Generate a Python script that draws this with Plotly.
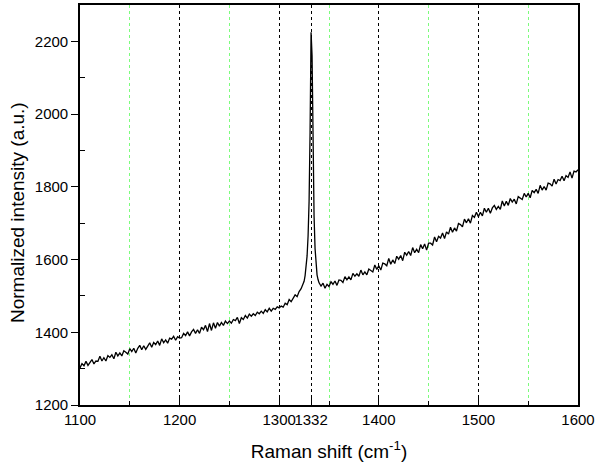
import plotly.graph_objects as go

# Raman shift (cm^-1)
shift = (list(range(1100, 1325, 2)) + list(range(1325, 1341, 1)) + list(range(1342, 1601, 2)))

intensity = [
    # 1100-1200
    1302, 1314, 1308, 1320, 1309, 1318, 1325, 1313, 1321, 1320,
    1334, 1321, 1330, 1321, 1336, 1331, 1338, 1327, 1345, 1335,
    1343, 1335, 1349, 1345, 1340, 1355, 1347, 1356, 1343, 1356,
    1364, 1352, 1363, 1353, 1363, 1371, 1359, 1372, 1366, 1376,
    1364, 1382, 1371, 1379, 1370, 1384, 1381, 1389, 1378, 1388,
    1384,
    # 1202-1300
    1385, 1397, 1391, 1401, 1390, 1401, 1408, 1397, 1407, 1397,
    1414, 1407, 1419, 1402, 1424, 1405, 1426, 1411, 1427, 1417,
    1427, 1419, 1431, 1424, 1431, 1425, 1435, 1432, 1441, 1424,
    1440, 1435, 1446, 1439, 1450, 1444, 1451, 1446, 1455, 1451,
    1458, 1452, 1462, 1456, 1466, 1458, 1466, 1463, 1470, 1467,
    # 1302-1324
    1472, 1469, 1480, 1476, 1490, 1484, 1495, 1503, 1498, 1512,
    1520, 1531,
    # 1325-1340
    1540, 1556, 1578, 1610, 1665, 1760, 1950, 2225, 2160, 1900,
    1720, 1630, 1585, 1558, 1545, 1536,
    # 1342-1600
    1527, 1535, 1521, 1532, 1526, 1539, 1532, 1541, 1529, 1544,
    1543, 1537, 1553, 1544, 1552, 1544, 1562, 1554, 1561, 1554,
    1571, 1558, 1566, 1558, 1574, 1571, 1566, 1585, 1573, 1583,
    1571, 1590, 1588, 1583, 1603, 1587, 1599, 1589, 1609, 1601,
    1611, 1597, 1620, 1612, 1622, 1611, 1633, 1619, 1628, 1619,
    1641, 1630, 1643, 1626, 1645, 1645, 1640, 1662, 1649, 1664,
    1659, 1673, 1658, 1676, 1670, 1689, 1675, 1687, 1678, 1699,
    1696, 1690, 1711, 1701, 1712, 1700, 1721, 1716, 1730, 1718,
    1730, 1720, 1741, 1730, 1741, 1727, 1742, 1749, 1738, 1746,
    1738, 1761, 1747, 1760, 1749, 1768, 1758, 1766, 1753, 1773,
    1769, 1765, 1782, 1772, 1782, 1770, 1790, 1784, 1793, 1782,
    1804, 1791, 1801, 1791, 1810, 1808, 1802, 1821, 1808, 1820,
    1817, 1829, 1817, 1831, 1826, 1841, 1824, 1843, 1841, 1847,
]

x_ticks = [1100, 1200, 1300, 1332, 1400, 1500, 1600]
x_minor = [1150, 1250, 1350, 1450, 1550]
x_top_ticks = [1100, 1150, 1200, 1250, 1300, 1350, 1400, 1450, 1500, 1550, 1600]
y_ticks = [1200, 1400, 1600, 1800, 2000, 2200]
y_minor = [1300, 1500, 1700, 1900, 2100]
y_right_ticks = [1200, 1300, 1400, 1500, 1600, 1700, 1800, 1900, 2000, 2100, 2200]

x_range = [1100, 1600]
y_range = [1200, 2300]

FONT = "Liberation Sans, Arial, sans-serif"

fig = go.Figure()
fig.add_trace(go.Scatter(x=shift, y=intensity, mode="lines",
                         line=dict(color="black", width=1.3), showlegend=False))

fig.update_layout(
    width=597, height=470,
    margin=dict(l=80, r=19, t=5, b=65),
    paper_bgcolor="white", plot_bgcolor="white",
    font=dict(family=FONT, color="black", size=15),
    xaxis=dict(
        range=x_range, tickmode="array", tickvals=x_ticks,
        ticktext=[str(v) for v in x_ticks], tickangle=0, automargin=False,
        ticks="inside", ticklen=7, tickwidth=1.2, tickcolor="black",
        showline=True, linewidth=1.6, linecolor="black", mirror=True,
        showgrid=True, gridcolor="black", gridwidth=1, griddash="3px,3px",
        zeroline=False,
        minor=dict(tickmode="array", tickvals=x_minor, ticks="inside",
                   ticklen=4, tickcolor="black", showgrid=True,
                   gridcolor="#7CFC7C", gridwidth=1, griddash="dot"),
        title=dict(text="Raman shift (cm<sup>-1</sup>)", font=dict(size=19),
                   standoff=18),
        tickfont=dict(size=15),
    ),
    yaxis=dict(
        range=y_range, tickmode="array", tickvals=y_ticks, automargin=False,
        ticks="outside", ticklen=7, tickwidth=1.2, tickcolor="black",
        showline=True, linewidth=1.6, linecolor="black", mirror=True,
        showgrid=False, zeroline=False,
        minor=dict(tickmode="array", tickvals=y_minor, ticks="inside",
                   ticklen=5, tickcolor="black", showgrid=False),
        tickfont=dict(size=15),
    ),
    xaxis2=dict(
        range=x_range, overlaying="x", side="top", anchor="y",
        tickmode="array", tickvals=x_top_ticks, ticks="inside", ticklen=7,
        tickcolor="black", tickwidth=1.2, showticklabels=False,
        showgrid=False, zeroline=False, showline=False, automargin=False,
    ),
    yaxis2=dict(
        range=y_range, overlaying="y", side="right", anchor="x",
        tickmode="array", tickvals=y_right_ticks, ticks="inside", ticklen=7,
        tickcolor="black", tickwidth=1.2, showticklabels=False,
        showgrid=False, zeroline=False, showline=False, automargin=False,
    ),
    annotations=[dict(
        text="Normalized intensity (a.u.)", textangle=-90,
        xref="paper", yref="paper", x=-63 / 498, y=0.48,
        xanchor="center", yanchor="middle", showarrow=False,
        font=dict(size=19, family=FONT, color="black"),
    )],
)

fig.write_html("out.html", config={"displayModeBar": False},
               post_script="document.body.style.margin='0px';")
